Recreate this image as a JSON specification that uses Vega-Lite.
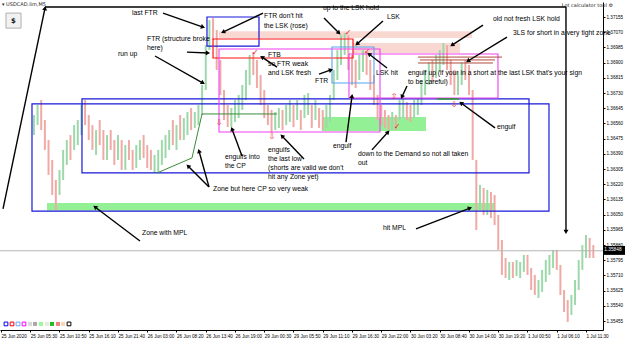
{
"$schema": "https://vega.github.io/schema/vega-lite/v6.json",
"width": 603, "height": 328,
"autosize": {"type": "none"},
"padding": {"left": 0, "top": 2, "right": 22, "bottom": 9},
"background": "white",
"config": {"view": {"stroke": null}, "axis": {"grid": false}},
"datasets": {
"candles": [
{"t":72,"p":1.36607,"p2":1.36495,"d":"u"},{"t":80,"p":1.36663,"p2":1.36551,"d":"u"},{"t":88,"p":1.36691,"p2":1.36523,"d":"d"},{"t":96,"p":1.36579,"p2":1.36412,"d":"d"},{"t":104,"p":1.36467,"p2":1.36272,"d":"d"},{"t":112,"p":1.36356,"p2":1.36160,"d":"d"},{"t":120,"p":1.36244,"p2":1.36076,"d":"d"},{"t":128,"p":1.36300,"p2":1.36160,"d":"u"},{"t":136,"p":1.36412,"p2":1.36244,"d":"u"},{"t":144,"p":1.36467,"p2":1.36328,"d":"u"},
{"t":152,"p":1.36495,"p2":1.36356,"d":"d"},{"t":160,"p":1.36551,"p2":1.36412,"d":"u"},{"t":168,"p":1.36579,"p2":1.36439,"d":"u"},{"t":176,"p":1.36663,"p2":1.36495,"d":"u"},{"t":184,"p":1.36691,"p2":1.36551,"d":"d"},{"t":192,"p":1.36607,"p2":1.36467,"d":"d"},{"t":200,"p":1.36551,"p2":1.36412,"d":"d"},{"t":208,"p":1.36523,"p2":1.36384,"d":"u"},{"t":216,"p":1.36579,"p2":1.36439,"d":"d"},{"t":224,"p":1.36523,"p2":1.36356,"d":"d"},
{"t":232,"p":1.36495,"p2":1.36356,"d":"u"},{"t":240,"p":1.36523,"p2":1.36412,"d":"d"},{"t":248,"p":1.36467,"p2":1.36328,"d":"d"},{"t":256,"p":1.36495,"p2":1.36356,"d":"u"},{"t":264,"p":1.36467,"p2":1.36300,"d":"d"},{"t":272,"p":1.36439,"p2":1.36300,"d":"u"},{"t":280,"p":1.36467,"p2":1.36356,"d":"d"},{"t":288,"p":1.36412,"p2":1.36300,"d":"d"},{"t":296,"p":1.36439,"p2":1.36311,"d":"u"},{"t":304,"p":1.36467,"p2":1.36356,"d":"u"},
{"t":312,"p":1.36495,"p2":1.36367,"d":"d"},{"t":320,"p":1.36439,"p2":1.36311,"d":"d"},{"t":328,"p":1.36412,"p2":1.36300,"d":"d"},{"t":336,"p":1.36384,"p2":1.36283,"d":"u"},{"t":344,"p":1.36412,"p2":1.36289,"d":"u"},{"t":352,"p":1.36467,"p2":1.36328,"d":"u"},{"t":360,"p":1.36495,"p2":1.36367,"d":"u"},{"t":368,"p":1.36523,"p2":1.36412,"d":"u"},{"t":376,"p":1.36579,"p2":1.36439,"d":"d"},{"t":384,"p":1.36551,"p2":1.36412,"d":"u"},
{"t":392,"p":1.36607,"p2":1.36467,"d":"d"},{"t":400,"p":1.36590,"p2":1.36467,"d":"u"},{"t":408,"p":1.36624,"p2":1.36495,"d":"u"},{"t":416,"p":1.36646,"p2":1.36523,"d":"d"},{"t":424,"p":1.36624,"p2":1.36535,"d":"u"},{"t":432,"p":1.36663,"p2":1.36551,"d":"u"},{"t":440,"p":1.36775,"p2":1.36607,"d":"u"},{"t":448,"p":1.36998,"p2":1.36747,"d":"u"},{"t":456,"p":1.37138,"p2":1.36970,"d":"u"},{"t":464,"p":1.37149,"p2":1.37026,"d":"d"},
{"t":472,"p":1.37082,"p2":1.36859,"d":"d"},{"t":480,"p":1.36915,"p2":1.36719,"d":"d"},{"t":488,"p":1.36747,"p2":1.36579,"d":"d"},{"t":496,"p":1.36663,"p2":1.36540,"d":"d"},{"t":504,"p":1.36646,"p2":1.36540,"d":"u"},{"t":512,"p":1.36691,"p2":1.36568,"d":"u"},{"t":520,"p":1.36719,"p2":1.36590,"d":"u"},{"t":528,"p":1.36775,"p2":1.36635,"d":"u"},{"t":536,"p":1.36859,"p2":1.36691,"d":"u"},{"t":544,"p":1.36943,"p2":1.36775,"d":"u"},
{"t":552,"p":1.36959,"p2":1.36831,"d":"d"},{"t":560,"p":1.36915,"p2":1.36758,"d":"d"},{"t":568,"p":1.36831,"p2":1.36663,"d":"d"},{"t":576,"p":1.36747,"p2":1.36590,"d":"d"},{"t":584,"p":1.36663,"p2":1.36551,"d":"d"},{"t":592,"p":1.36635,"p2":1.36507,"d":"d"},{"t":600,"p":1.36624,"p2":1.36523,"d":"u"},{"t":608,"p":1.36646,"p2":1.36535,"d":"u"},{"t":616,"p":1.36635,"p2":1.36523,"d":"d"},{"t":624,"p":1.36663,"p2":1.36551,"d":"u"},
{"t":632,"p":1.36691,"p2":1.36568,"d":"u"},{"t":640,"p":1.36663,"p2":1.36540,"d":"d"},{"t":648,"p":1.36691,"p2":1.36579,"d":"u"},{"t":656,"p":1.36635,"p2":1.36523,"d":"d"},{"t":664,"p":1.36719,"p2":1.36590,"d":"u"},{"t":672,"p":1.36730,"p2":1.36607,"d":"u"},{"t":680,"p":1.36663,"p2":1.36535,"d":"d"},{"t":688,"p":1.36691,"p2":1.36579,"d":"u"},{"t":696,"p":1.36646,"p2":1.36535,"d":"d"},{"t":704,"p":1.36635,"p2":1.36523,"d":"d"},
{"t":712,"p":1.36663,"p2":1.36535,"d":"u"},{"t":720,"p":1.36719,"p2":1.36568,"d":"u"},{"t":728,"p":1.36859,"p2":1.36691,"d":"u"},{"t":736,"p":1.36970,"p2":1.36803,"d":"u"},{"t":744,"p":1.37054,"p2":1.36887,"d":"u"},{"t":752,"p":1.37066,"p2":1.36943,"d":"u"},{"t":760,"p":1.37054,"p2":1.36859,"d":"d"},{"t":768,"p":1.36943,"p2":1.36775,"d":"d"},{"t":776,"p":1.36915,"p2":1.36758,"d":"d"},{"t":784,"p":1.36943,"p2":1.36803,"d":"u"},
{"t":792,"p":1.36970,"p2":1.36848,"d":"u"},{"t":800,"p":1.36959,"p2":1.36831,"d":"d"},{"t":808,"p":1.36915,"p2":1.36747,"d":"d"},{"t":816,"p":1.36831,"p2":1.36663,"d":"d"},{"t":824,"p":1.36719,"p2":1.36579,"d":"d"},{"t":832,"p":1.36663,"p2":1.36551,"d":"d"},{"t":840,"p":1.36635,"p2":1.36535,"d":"d"},{"t":848,"p":1.36607,"p2":1.36523,"d":"d"},{"t":856,"p":1.36624,"p2":1.36523,"d":"u"},{"t":864,"p":1.36607,"p2":1.36523,"d":"d"},
{"t":872,"p":1.36691,"p2":1.36579,"d":"u"},{"t":880,"p":1.36702,"p2":1.36590,"d":"u"},{"t":888,"p":1.36680,"p2":1.36579,"d":"d"},{"t":896,"p":1.36663,"p2":1.36568,"d":"d"},{"t":904,"p":1.36691,"p2":1.36590,"d":"u"},{"t":912,"p":1.36702,"p2":1.36607,"d":"u"},{"t":920,"p":1.36803,"p2":1.36663,"d":"u"},{"t":928,"p":1.36859,"p2":1.36719,"d":"u"},{"t":936,"p":1.36903,"p2":1.36775,"d":"u"},{"t":944,"p":1.36915,"p2":1.36792,"d":"d"},
{"t":952,"p":1.36943,"p2":1.36814,"d":"u"},{"t":960,"p":1.36970,"p2":1.36848,"d":"u"},{"t":968,"p":1.37010,"p2":1.36887,"d":"u"},{"t":976,"p":1.36998,"p2":1.36859,"d":"d"},{"t":984,"p":1.36915,"p2":1.36775,"d":"d"},{"t":992,"p":1.36859,"p2":1.36719,"d":"d"},{"t":1000,"p":1.36848,"p2":1.36719,"d":"u"},{"t":1008,"p":1.36903,"p2":1.36775,"d":"u"},{"t":1016,"p":1.36915,"p2":1.36803,"d":"d"},{"t":1024,"p":1.36887,"p2":1.36719,"d":"d"},
{"t":1032,"p":1.36747,"p2":1.36356,"d":"d"},{"t":1040,"p":1.36356,"p2":1.35964,"d":"d"},{"t":1048,"p":1.36216,"p2":1.36076,"d":"u"},{"t":1056,"p":1.36199,"p2":1.36048,"d":"d"},{"t":1064,"p":1.36188,"p2":1.36048,"d":"u"},{"t":1072,"p":1.36177,"p2":1.36031,"d":"d"},{"t":1080,"p":1.36160,"p2":1.35992,"d":"d"},{"t":1088,"p":1.36048,"p2":1.35853,"d":"d"},{"t":1096,"p":1.35908,"p2":1.35713,"d":"d"},{"t":1104,"p":1.35808,"p2":1.35696,"d":"d"},
{"t":1112,"p":1.35785,"p2":1.35685,"d":"u"},{"t":1120,"p":1.35785,"p2":1.35696,"d":"d"},{"t":1128,"p":1.35797,"p2":1.35707,"d":"u"},{"t":1136,"p":1.35785,"p2":1.35696,"d":"u"},{"t":1144,"p":1.35825,"p2":1.35730,"d":"u"},{"t":1152,"p":1.35825,"p2":1.35713,"d":"d"},{"t":1160,"p":1.35752,"p2":1.35629,"d":"d"},{"t":1168,"p":1.35713,"p2":1.35601,"d":"d"},{"t":1176,"p":1.35685,"p2":1.35584,"d":"u"},{"t":1184,"p":1.35741,"p2":1.35618,"d":"u"},
{"t":1192,"p":1.35797,"p2":1.35674,"d":"u"},{"t":1200,"p":1.35825,"p2":1.35713,"d":"u"},{"t":1208,"p":1.35853,"p2":1.35752,"d":"u"},{"t":1216,"p":1.35853,"p2":1.35741,"d":"d"},{"t":1224,"p":1.35769,"p2":1.35601,"d":"d"},{"t":1232,"p":1.35629,"p2":1.35506,"d":"d"},{"t":1240,"p":1.35573,"p2":1.35450,"d":"d"},{"t":1248,"p":1.35601,"p2":1.35489,"d":"u"},{"t":1256,"p":1.35685,"p2":1.35545,"d":"u"},{"t":1264,"p":1.35797,"p2":1.35629,"d":"u"},
{"t":1272,"p":1.35880,"p2":1.35741,"d":"u"},{"t":1280,"p":1.35936,"p2":1.35808,"d":"u"},{"t":1288,"p":1.35920,"p2":1.35808,"d":"d"},{"t":1296,"p":1.35880,"p2":1.35808,"d":"d"}
],
"boxes": [
{"k":"rose","t":477,"t2":1030.5,"p":1.37076,"p2":1.37038},
{"k":"rose","t":770.2,"t2":1004.3,"p":1.37010,"p2":1.36954},
{"k":"green","t":100.6,"t2":1078.7,"p":1.36115,"p2":1.36073},
{"k":"green","t":702.3,"t2":929.9,"p":1.36596,"p2":1.36518},
{"k":"blue","t":67.8,"t2":1199,"p":1.36669,"p2":1.36070},
{"k":"blue","t":177.2,"t2":1155.3,"p":1.36697,"p2":1.36283},
{"k":"blue","t":450.7,"t2":564.5,"p":1.37155,"p2":1.36992},
{"k":"red","t":463.9,"t2":770.2,"p":1.37032,"p2":1.36926},
{"k":"magenta","t":477,"t2":829.3,"p":1.36976,"p2":1.36512},
{"k":"magenta","t":761.4,"t2":1087.4,"p":1.36948,"p2":1.36702},
{"k":"lightblue","t":724.2,"t2":816.1,"p":1.36987,"p2":1.36786},
{"k":"btn","t":10.9,"t2":43.8,"p":1.37177,"p2":1.37093},
{"k":"bidbox","t":1318.5,"t2":1365.3,"p":1.35875,"p2":1.35825}
],
"hlines": [
{"k":"3ls","t":912.4,"t2":1096.2,"p":1.36931},
{"k":"3ls","t":916.8,"t2":1080.9,"p":1.36915},
{"k":"3ls","t":912.4,"t2":1076.5,"p":1.36898},
{"k":"grn","t":954,"t2":1002,"p":1.36697},
{"k":"bid","t":-2.188,"t2":1317.2,"p":1.35848}
],
"cp": [
{"i":0,"t":341.3,"p":1.36283},{"i":1,"t":417.9,"p":1.36367},{"i":2,"t":439.8,"p":1.36613},{"i":3,"t":603.9,"p":1.36613}
],
"arrows": [
{"t":442,"p":1.37099,"t2":354.5,"p2":1.37177,"h":1},
{"t":485.7,"p":1.37071,"t2":573.3,"p2":1.37177,"h":1},
{"t":452.9,"p":1.36954,"t2":407,"p2":1.36959,"h":1},
{"t":442,"p":1.36786,"t2":337,"p2":1.36937,"h":1},
{"t":571,"p":1.36931,"t2":603.9,"p2":1.36875,"h":1},
{"t":505.4,"p":1.36529,"t2":527.3,"p2":1.36378,"h":1},
{"t":614.8,"p":1.36490,"t2":663,"p2":1.36361,"h":1},
{"t":433.2,"p":1.36406,"t2":455.1,"p2":1.36205,"h":1},
{"t":409.2,"p":1.36322,"t2":455.1,"p2":1.36205,"h":1},
{"t":205.7,"p":1.36093,"t2":304.1,"p2":1.35903,"h":1},
{"t":1026.2,"p":1.36087,"t2":908,"p2":1.35970,"h":1},
{"t":739.5,"p":1.37066,"t2":706.7,"p2":1.37149,"h":1},
{"t":778.9,"p":1.37004,"t2":835.8,"p2":1.37133,"h":1},
{"t":805.2,"p":1.36948,"t2":844.6,"p2":1.36870,"h":1},
{"t":722,"p":1.36859,"t2":695.8,"p2":1.36836,"h":1},
{"t":768,"p":1.36713,"t2":754.9,"p2":1.36456,"h":1},
{"t":846.8,"p":1.36512,"t2":811.7,"p2":1.36412,"h":1},
{"t":877.2,"p":1.36708,"t2":888.3,"p2":1.36769,"h":1},
{"t":986.8,"p":1.36998,"t2":1054.6,"p2":1.37110,"h":1},
{"t":1021.6,"p":1.36909,"t2":1107.1,"p2":1.37043,"h":1},
{"t":1006.5,"p":1.36674,"t2":1080.9,"p2":1.36535,"h":1},
{"t":96.3,"p":1.37205,"t2":4.4,"p2":1.36082,"h":1},
{"t":1236.2,"p":1.37211,"t2":96.3,"p2":1.37211,"h":0},
{"t":1236.2,"p":1.35953,"t2":1236.2,"p2":1.37211,"h":1}
],
"notes": [
{"t":286.6,"p":1.37177,"s":"last FTR"},
{"t":575.4,"p":1.37161,"s":"FTR don't hit"},
{"t":575.4,"p":1.37105,"s":"the LSK (rose)"},
{"t":319.4,"p":1.37032,"s":"FTR (structure broke"},
{"t":319.4,"p":1.36982,"s":"here)"},
{"t":256,"p":1.36948,"s":"run up"},
{"t":584.2,"p":1.36943,"s":"FTB"},
{"t":584.2,"p":1.36892,"s":"so FTR weak"},
{"t":584.2,"p":1.36842,"s":"and LSK fresh"},
{"t":687,"p":1.36797,"s":"FTR"},
{"t":490.1,"p":1.36372,"s":"engulfs into"},
{"t":490.1,"p":1.36322,"s":"the CP"},
{"t":584.2,"p":1.36412,"s":"engulfs"},
{"t":584.2,"p":1.36361,"s":"the last low"},
{"t":584.2,"p":1.36311,"s":"(shorts are valid we don't"},
{"t":584.2,"p":1.36261,"s":"hit any Zone yet)"},
{"t":463.9,"p":1.36194,"s":"Zone but here CP so very weak"},
{"t":308.5,"p":1.35948,"s":"Zone with MPL"},
{"t":835.8,"p":1.35976,"s":"hit MPL"},
{"t":704.5,"p":1.37205,"s":"up to the LSK hold"},
{"t":844.6,"p":1.37155,"s":"LSK"},
{"t":820.5,"p":1.36842,"s":"LSK hit"},
{"t":726.4,"p":1.36434,"s":"engulf"},
{"t":781.1,"p":1.36389,"s":"down to the Demand so not all taken"},
{"t":781.1,"p":1.36339,"s":"out"},
{"t":890.5,"p":1.36842,"s":"engulf up (if your in a short at the last LSK that's your sign"},
{"t":890.5,"p":1.36792,"s":"to be careful)"},
{"t":1076.5,"p":1.37144,"s":"old not fresh LSK hold"},
{"t":1120.3,"p":1.37066,"s":"3LS for short in a very tight zone"},
{"t":1085.2,"p":1.36540,"s":"engulf"}
],
"sym": [
{"t":555.8,"p":1.36954,"s":"✓"},
{"t":759.2,"p":1.37066,"s":"✓"},
{"t":800.8,"p":1.36959,"s":"✓"},
{"t":866.5,"p":1.36540,"s":"✓"},
{"t":477,"p":1.36562,"s":"⇩"},
{"t":592.8,"p":1.36484,"s":"⇩"},
{"t":991.2,"p":1.36663,"s":"⇩"},
{"t":859.9,"p":1.36708,"s":"⇧"}
],
"ui": [
{"k":"title","t":2.2,"p":1.37228,"s":"▾ USDCAD.lim,M5"},
{"k":"lot","t":1227,"p":1.37222,"s":"Lot calculator tool ⚙"},
{"k":"dollar","t":27.4,"p":1.37135,"s":"$"},
{"k":"bid","t":1320,"p":1.35850,"s":"1.35848"}
],
"icons": [
{"t":10.9,"p":1.35439,"c":"i1","f":"o"},
{"t":24.1,"p":1.35439,"c":"i2","f":"o"},
{"t":37.2,"p":1.35439,"c":"i3","f":"o"},
{"t":50.3,"p":1.35439,"c":"i4","f":"o"},
{"t":63.5,"p":1.35439,"c":"i5","f":"f"},
{"t":74.4,"p":1.35439,"c":"i6","f":"f"},
{"t":87.5,"p":1.35439,"c":"i7","f":"f"},
{"t":100.6,"p":1.35439,"c":"i8","f":"f"},
{"t":111.6,"p":1.35439,"c":"i9","f":"f"},
{"t":124.7,"p":1.35439,"c":"i10","f":"f"},
{"t":135.7,"p":1.35439,"c":"i11","f":"f"},
{"t":148.8,"p":1.35439,"c":"i12","f":"o"}
]
},
"encoding": {
"x": {"field": "t", "type": "quantitative", "scale": {"domain": [-2.188, 1317.2], "nice": false, "zero": false},
 "axis": {"orient": "bottom", "title": null, "values": [0,64,128,192,256,320,384,448,512,576,640,704,768,832,896,960,1024,1088,1152,1216,1280],
  "labelExpr": "['25 Jun 2020','25 Jun 05:30','25 Jun 10:50','25 Jun 16:10','25 Jun 21:40','26 Jun 03:00','26 Jun 08:20','26 Jun 13:40','26 Jun 19:00','29 Jun 00:30','29 Jun 05:50','29 Jun 11:10','29 Jun 16:30','29 Jun 22:00','30 Jun 03:20','30 Jun 08:40','30 Jun 14:00','30 Jun 19:20','1 Jul 00:50','1 Jul 06:10','1 Jul 11:30'][round(datum.value/64)]",
  "labelAlign": "left", "labelBaseline": "top", "labelFont": "Liberation Sans Narrow, Liberation Sans", "labelFontSize": 4.6, "labelColor": "#000000",
  "tickSize": 2, "tickColor": "#000000", "domainColor": "#000000", "labelPadding": 1, "labelOverlap": false, "labelFlush": false, "grid": false}},
"y": {"field": "p", "type": "quantitative", "scale": {"domain": [1.35405, 1.37239], "nice": false, "zero": false},
 "axis": {"orient": "right", "title": null, "values": [1.37155,1.3707,1.36985,1.369,1.36815,1.3673,1.36645,1.3656,1.36475,1.3639,1.36305,1.3622,1.36135,1.3605,1.35965,1.3588,1.35795,1.3571,1.35625,1.3554,1.35455],
  "format": ".5f", "labelFont": "Liberation Sans Narrow, Liberation Sans", "labelFontSize": 4.6, "labelColor": "#000000",
  "tickSize": 2, "tickColor": "#000000", "domainColor": "#000000", "labelPadding": 1, "labelOverlap": false, "labelFlush": false, "grid": false}}
},
"layer": [
{"data": {"name": "boxes"}, "transform": [{"filter": "datum.k == 'rose'"}], "mark": {"type": "rect", "color": "#f9d8d2"}, "encoding": {"x2": {"field": "t2"}, "y2": {"field": "p2"}}},
{"data": {"name": "boxes"}, "transform": [{"filter": "datum.k == 'green'"}], "mark": {"type": "rect", "color": "#94f094"}, "encoding": {"x2": {"field": "t2"}, "y2": {"field": "p2"}}},
{"data": {"name": "candles"}, "mark": {"type": "rule", "strokeWidth": 2}, "encoding": {"y2": {"field": "p2"}, "color": {"field": "d", "type": "nominal", "scale": {"domain": ["u","d"], "range": ["#9dd8aa", "#f0aaa6"]}, "legend": null}}},
{"data": {"name": "hlines"}, "transform": [{"filter": "datum.k == 'bid'"}], "mark": {"type": "rule", "color": "#b4b4b4", "strokeWidth": 1}, "encoding": {"x2": {"field": "t2"}}},
{"data": {"name": "boxes"}, "transform": [{"filter": "datum.k == 'blue'"}], "mark": {"type": "rect", "filled": false, "color": "#1818d8", "strokeWidth": 1.2}, "encoding": {"x2": {"field": "t2"}, "y2": {"field": "p2"}}},
{"data": {"name": "boxes"}, "transform": [{"filter": "datum.k == 'red'"}], "mark": {"type": "rect", "filled": false, "color": "#ff1010", "strokeWidth": 1.2}, "encoding": {"x2": {"field": "t2"}, "y2": {"field": "p2"}}},
{"data": {"name": "boxes"}, "transform": [{"filter": "datum.k == 'magenta'"}], "mark": {"type": "rect", "filled": false, "color": "#f040f0", "strokeWidth": 1.1}, "encoding": {"x2": {"field": "t2"}, "y2": {"field": "p2"}}},
{"data": {"name": "boxes"}, "transform": [{"filter": "datum.k == 'lightblue'"}], "mark": {"type": "rect", "filled": false, "color": "#5aa2f0", "strokeWidth": 1.1}, "encoding": {"x2": {"field": "t2"}, "y2": {"field": "p2"}}},
{"data": {"name": "hlines"}, "transform": [{"filter": "datum.k == '3ls'"}], "mark": {"type": "rule", "color": "#b04a3c", "strokeWidth": 1}, "encoding": {"x2": {"field": "t2"}}},
{"data": {"name": "hlines"}, "transform": [{"filter": "datum.k == 'grn'"}], "mark": {"type": "rule", "color": "#2e9a2e", "strokeWidth": 1.5}, "encoding": {"x2": {"field": "t2"}}},
{"data": {"name": "cp"}, "mark": {"type": "line", "color": "#3a8c3a", "strokeWidth": 1}, "encoding": {"order": {"field": "i", "type": "quantitative"}}},
{"data": {"name": "arrows"}, "mark": {"type": "rule", "color": "#000000", "strokeWidth": 1.4}, "encoding": {"x2": {"field": "t2"}, "y2": {"field": "p2"}}},
{"data": {"name": "arrows"}, "transform": [{"filter": "datum.h == 1"}, {"calculate": "atan2((datum.t - datum.t2) / 2.188, (datum.p - datum.p2) / 0.0000559) * 180 / PI", "as": "ang"}],
 "mark": {"type": "point", "shape": "triangle-up", "filled": true, "size": 24, "color": "#000000", "opacity": 1},
 "encoding": {"angle": {"field": "ang", "type": "quantitative", "scale": null}}},
{"data": {"name": "notes"}, "mark": {"type": "text", "align": "left", "baseline": "middle", "font": "Liberation Sans", "fontSize": 6.8, "color": "#000000"}, "encoding": {"text": {"field": "s"}}},
{"data": {"name": "sym"}, "mark": {"type": "text", "align": "center", "baseline": "middle", "font": "DejaVu Sans", "fontSize": 8, "color": "#e82020"}, "encoding": {"text": {"field": "s"}}},
{"data": {"name": "boxes"}, "transform": [{"filter": "datum.k == 'btn'"}], "mark": {"type": "rect", "color": "#f2f2f2", "stroke": "#b0b0b0", "strokeWidth": 1}, "encoding": {"x2": {"field": "t2"}, "y2": {"field": "p2"}}},
{"data": {"name": "boxes"}, "transform": [{"filter": "datum.k == 'bidbox'"}], "mark": {"type": "rect", "color": "#000000"}, "encoding": {"x2": {"field": "t2"}, "y2": {"field": "p2"}}},
{"data": {"name": "ui"}, "transform": [{"filter": "datum.k == 'title' || datum.k == 'lot'"}], "mark": {"type": "text", "align": "left", "baseline": "middle", "font": "DejaVu Sans", "fontSize": 5, "color": "#202020"}, "encoding": {"text": {"field": "s"}}},
{"data": {"name": "ui"}, "transform": [{"filter": "datum.k == 'dollar'"}], "mark": {"type": "text", "align": "center", "baseline": "middle", "font": "DejaVu Sans", "fontSize": 7, "fontWeight": "bold", "color": "#202020"}, "encoding": {"text": {"field": "s"}}},
{"data": {"name": "ui"}, "transform": [{"filter": "datum.k == 'bid'"}], "mark": {"type": "text", "align": "left", "baseline": "middle", "font": "Liberation Sans Narrow, Liberation Sans", "fontSize": 4.8, "color": "#ffffff"}, "encoding": {"text": {"field": "s"}}},
{"data": {"name": "icons"}, "transform": [{"filter": "datum.f == 'o'"}], "mark": {"type": "point", "shape": "square", "size": 14, "filled": false, "strokeWidth": 1, "opacity": 1},
 "encoding": {"color": {"field": "c", "type": "nominal", "scale": {"domain": ["i1","i2","i3","i4","i12"], "range": ["#0000ff","#ff0000","#66aaff","#ff00ff","#000000"]}, "legend": null}}},
{"data": {"name": "icons"}, "transform": [{"filter": "datum.f == 'f'"}], "mark": {"type": "point", "shape": "square", "size": 16, "filled": true, "opacity": 1},
 "encoding": {"color": {"field": "c", "type": "nominal", "scale": {"domain": ["i5","i6","i7","i8","i9","i10","i11"], "range": ["#d8d8d8","#a8a8a8","#98fb98","#e4ece0","#22bb22","#f08080","#fcd5b4"]}, "legend": null}}}
],
"resolve": {"scale": {"color": "independent"}}
}
